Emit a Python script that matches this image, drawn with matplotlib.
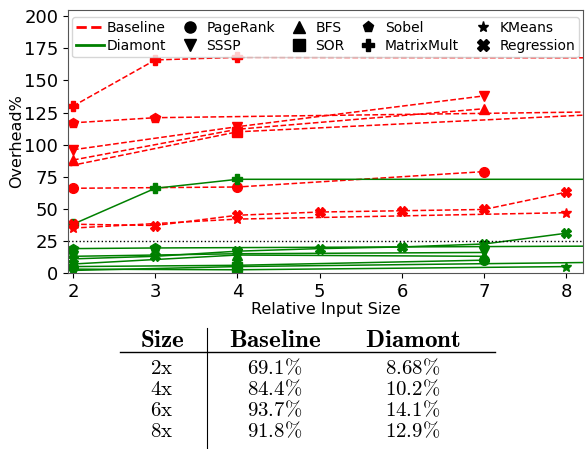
import matplotlib
matplotlib.use('Agg')
import numpy as np
from matplotlib import pyplot as plt
from matplotlib.lines import Line2D

# overhead (%) per benchmark, baseline vs diamont
x_graph = [2, 4, 7]
pagerank_base = [66, 67, 79]
pagerank_diam = [5, 6, 10]
sssp_base = [96, 114, 138]
sssp_diam = [13, 15, 16]
bfs_base = [88, 112, 128]
bfs_diam = [7, 14, 13]

x_sor = [1, 4, 16]
sor_base = [71, 110, 147]
sor_diam = [0.5, 5, 14]

x_sobel = [2, 3, 16]
sobel_base = [117, 121, 132]
sobel_diam = [19, 19.5, 23]

x_mm = [2, 3, 4, 16]
mm_base = [130, 166, 168, 167]
mm_diam = [38, 66, 73, 73]

x_kmeans = [2, 4, 8]
kmeans_base = [35, 42, 47]
kmeans_diam = [3, 2.5, 5]

x_reg = [2, 3, 4, 5, 6, 7, 8]
reg_base = [38, 37, 45, 47.5, 48.5, 49.5, 63]
reg_diam = [11, 13, 17, 19, 20.3, 22.6, 31]

# summary table
table_sizes = ['2x', '4x', '6x', '8x']
table_base = ['69.1%', '84.4%', '93.7%', '91.8%']
table_diam = ['8.68%', '10.2%', '14.1%', '12.9%']

benchmarks = [
    ('PageRank', 'o', x_graph, pagerank_base, pagerank_diam),
    ('SSSP', 'v', x_graph, sssp_base, sssp_diam),
    ('BFS', '^', x_graph, bfs_base, bfs_diam),
    ('SOR', 's', x_sor, sor_base, sor_diam),
    ('Sobel', 'p', x_sobel, sobel_base, sobel_diam),
    ('MatrixMult', 'P', x_mm, mm_base, mm_diam),
    ('KMeans', '*', x_kmeans, kmeans_base, kmeans_diam),
    ('Regression', 'X', x_reg, reg_base, reg_diam),
]

plt.rcParams['mathtext.fontset'] = 'cm'

fig = plt.figure(figsize=(5.87, 4.49), dpi=100)
ax = fig.add_axes([0.116, 0.392, 0.877, 0.586])

for name, mk, xs, base, diam in benchmarks:
    ax.plot(xs, base, color='red', ls='--', lw=1.1, marker=mk, ms=7)
    ax.plot(xs, diam, color='green', ls='-', lw=1.1, marker=mk, ms=7)

ax.axhline(25, color='black', ls=':', lw=1)

ax.set_xlim(1.94, 8.2)
ax.set_ylim(0, 205)
ax.set_xticks(range(2, 9))
ax.set_yticks(range(0, 201, 25))
ax.tick_params(labelsize=13)
ax.set_xlabel('Relative Input Size', fontsize=11.5, labelpad=1)
ax.set_ylabel('Overhead%', fontsize=11.5, labelpad=0)
for s in ax.spines.values():
    s.set_color('#555555')

handles = [Line2D([], [], color='red', ls='--', lw=2),
           Line2D([], [], color='green', ls='-', lw=2)]
labels = ['Baseline', 'Diamont']
for name, mk, xs, base, diam in benchmarks:
    handles.append(Line2D([], [], color='black', ls='none', marker=mk, ms=8))
    labels.append(name)
ax.legend(handles, labels, ncol=5, loc='upper center', fontsize=10,
          bbox_to_anchor=(0.5, 1.0), columnspacing=0.7, handletextpad=0.2,
          labelspacing=0.3, borderpad=0.3, handlelength=2.0)

# table under the plot
fs_head = 18
fs_row = 15
cols_x = [0.276, 0.468, 0.703]
heads = ['Size', 'Baseline', 'Diamont']
for cx, h in zip(cols_x, heads):
    fig.text(cx, 0.243, r'$\mathbf{%s}$' % h, fontsize=fs_head, ha='center', va='center')
row_y = [0.180, 0.133, 0.087, 0.040]
for i in range(len(table_sizes)):
    cells = [table_sizes[i], table_base[i], table_diam[i]]
    for cx, c in zip(cols_x, cells):
        fig.text(cx, row_y[i], r'$\mathrm{%s}$' % c.replace('%', r'\%'),
                 fontsize=fs_row, ha='center', va='center')
fig.add_artist(Line2D([0.204, 0.843], [0.216, 0.216], color='black', lw=1,
                      transform=fig.transFigure))
fig.add_artist(Line2D([0.353, 0.353], [0.0, 0.270], color='black', lw=0.8,
                      transform=fig.transFigure))

plt.savefig('out.png', dpi=100)
